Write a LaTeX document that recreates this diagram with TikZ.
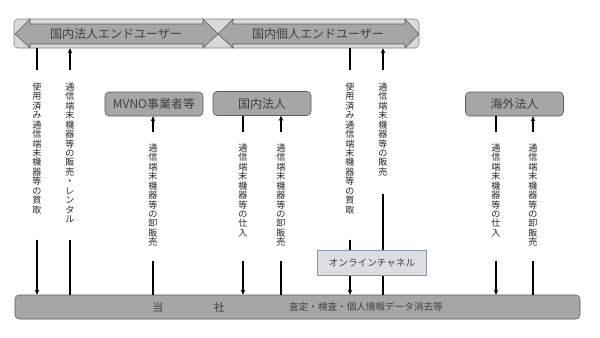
\documentclass[tikz,border=0pt]{standalone}
\usepackage{fontspec}
\setmainfont{Noto Sans CJK JP}
\usetikzlibrary{arrows.meta}
\definecolor{barfill}{RGB}{166,166,166}
\definecolor{barline}{RGB}{89,89,89}
\definecolor{palefill}{RGB}{217,217,217}
\definecolor{chanfill}{RGB}{221,222,226}
\definecolor{chanline}{RGB}{132,151,176}
% vertical text: height, top gap, characters
\newcommand\tate[3]{\vbox to #1{\offinterlineskip\kern#2\tateA#3\relax\vss}}
\def\tateA#1{\ifx\relax#1\else\hbox to 1em{\hss\vrule width0pt height.88em depth.12em #1\hss}\kern.3pt\expandafter\tateA\fi}
\tikzset{
  firm/.style={draw=barline,fill=barfill,rounded corners=3pt,minimum width=73.5pt,minimum height=18pt,inner sep=0pt,text=black!75,font=\fontsize{9}{10}\selectfont},
  chan/.style={draw=chanline,fill=chanfill,minimum width=82pt,minimum height=19pt,inner sep=0pt,text=black!75,font=\fontsize{7.2}{8}\selectfont},
  tatelbl/.style={anchor=north,inner sep=0pt,text=black!85,font=\fontsize{6.8}{7}\selectfont},
  flow/.style={line width=1pt}
}
\begin{document}
\begin{tikzpicture}[x=0.75pt,y=-0.75pt,>={Stealth[length=3.8pt,width=3.4pt]}]
\useasboundingbox (0,0) rectangle (600,337);
% end users
\node[draw=black!50,fill=palefill,rounded corners=3pt,minimum width=303.75pt,minimum height=21.75pt] (users) at (216.5,33.5) {};
\filldraw[fill=barfill,draw=barline] (15,34)--(30,19)--(30,24)--(203,24)--(203,19)--(218,34)--(203,48)--(203,44)--(30,44)--(30,48)--cycle;
\filldraw[fill=barfill,draw=barline] (218,34)--(233,19)--(233,24)--(405,24)--(405,19)--(419,34)--(405,48)--(405,44)--(233,44)--(233,48)--cycle;
\node[text=black!75,font=\fontsize{9}{10}\selectfont] at (116,34) {国内法人エンドユーザー};
\node[text=black!75,font=\fontsize{9}{10}\selectfont] at (318,34) {国内個人エンドユーザー};
% partners and company
\node[firm] (mvno) at (154,104) {MVNO事業者等};
\node[firm] (kokunai) at (262,103.5) {国内法人};
\node[firm] (kaigai) at (514.5,104) {海外法人};
\node[firm,minimum width=423.75pt] (tosha) at (297.5,307) {};
\node[text=black!75,font=\fontsize{8}{9}\selectfont] at (188.5,307) {当\hspace{38pt}社};
\node[text=black!75,font=\fontsize{7.2}{8}\selectfont] at (366,307) {査定・検査・個人情報データ消去等};
% labels
\node[tatelbl] (buyL) at (37,70) {\tate{126.75pt}{9pt}{使用済み通信端末機器等の買取}};
\node[tatelbl] (sellL) at (70,70) {\tate{126.75pt}{9pt}{通信端末機器等の販売・レンタル}};
\node[tatelbl] (buyR) at (350,70) {\tate{126.75pt}{9pt}{使用済み通信端末機器等の買取}};
\node[tatelbl] (sellR) at (383,70) {\tate{92.25pt}{9pt}{通信端末機器等の販売}};
\node[tatelbl] (wsM) at (153,132) {\tate{96pt}{8.25pt}{通信端末機器等の卸販売}};
\node[tatelbl] (buyK) at (243,132) {\tate{96pt}{8.25pt}{通信端末機器等の仕入}};
\node[tatelbl] (wsK) at (281,132) {\tate{96pt}{8.25pt}{通信端末機器等の卸販売}};
\node[tatelbl] (buyO) at (496,132) {\tate{96pt}{8.25pt}{通信端末機器等の仕入}};
\node[tatelbl] (wsO) at (533,132) {\tate{96pt}{8.25pt}{通信端末機器等の卸販売}};
% flows
\draw[flow] (users.south -| buyL)--(buyL.north); \draw[flow,->] (buyL.south)--(tosha.north -| buyL);
\foreach \l in {sellL,sellR}{\draw[flow,->] (\l.north)--(users.south -| \l); \draw[flow] (tosha.north -| \l)--(\l.south);}
\foreach \l/\b in {wsM/mvno,wsK/kokunai,wsO/kaigai}{\draw[flow,->] (\l.north)--(\b.south -| \l); \draw[flow] (tosha.north -| \l)--(\l.south);}
\foreach \l/\b in {buyK/kokunai,buyO/kaigai}{\draw[flow] (\b.south -| \l)--(\l.north); \draw[flow,->] (\l.south)--(tosha.north -| \l);}
\node[chan] (online) at (372,263) {オンラインチャネル};
\draw[flow] (users.south -| buyR)--(buyR.north); \draw[flow] (buyR.south)--(online.north -| buyR); \draw[flow,->] (online.south -| buyR)--(tosha.north -| buyR);
\end{tikzpicture}
\end{document}
